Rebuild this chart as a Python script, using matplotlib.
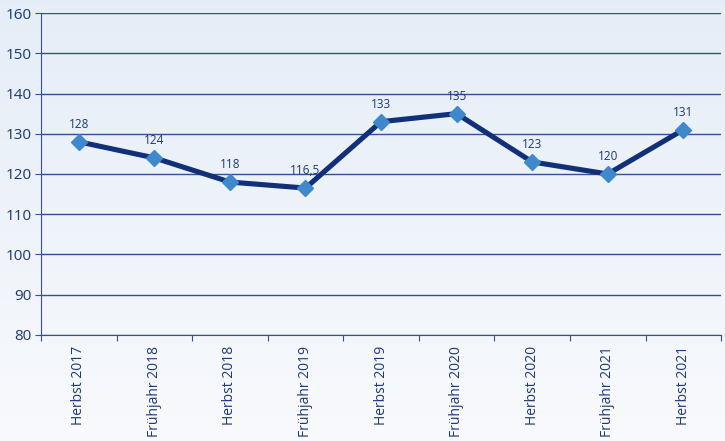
import numpy as np
import matplotlib.pyplot as plt

# Daten
kategorien = ['Herbst 2017', 'Frühjahr 2018', 'Herbst 2018', 'Frühjahr 2019', 'Herbst 2019',
              'Frühjahr 2020', 'Herbst 2020', 'Frühjahr 2021', 'Herbst 2021']
werte = [128, 124, 118, 116.5, 133, 135, 123, 120, 131]
beschriftung = ['128', '124', '118', '116,5', '133', '135', '123', '120', '131']
y_ticks = [80, 90, 100, 110, 120, 130, 140, 150, 160]

text_farbe = '#1d3677'
linien_farbe = '#12307a'
marker_farbe = '#3f88cc'
gitter_farbe = '#30508f'

plt.rcParams['font.family'] = ['Open Sans', 'DejaVu Sans']

fig = plt.figure(figsize=(7.25, 4.41), dpi=100)

# Hintergrund mit Verlauf
bg = fig.add_axes([0, 0, 1, 1], zorder=0)
verlauf = np.linspace(0, 1, 256).reshape(-1, 1)
oben = np.array([0.898, 0.929, 0.969])
unten = np.array([0.973, 0.980, 0.992])
img = oben + (unten - oben) * verlauf[:, :, None]
bg.imshow(img, aspect='auto', extent=[0, 1, 0, 1])
bg.axis('off')

ax = fig.add_axes([0.0566, 0.2404, 0.938, 0.7301], zorder=1)
ax.patch.set_alpha(0)

x = np.arange(len(kategorien))
ax.plot(x, werte, color=linien_farbe, linewidth=3.7, zorder=3)
ax.plot(x, werte, linestyle='none', marker='D', markersize=8, color=marker_farbe, zorder=4)

for xi, yi, t in zip(x, werte, beschriftung):
    ax.annotate(t, (xi, yi), xytext=(0, 8), textcoords='offset points', ha='center', va='bottom',
                fontsize=8.5, color=text_farbe)

ax.set_xlim(-0.5, len(kategorien) - 0.5)
ax.set_ylim(80, 160)
ax.set_yticks(y_ticks)
ax.set_yticklabels([str(v) for v in y_ticks], fontsize=11, color=text_farbe)
ax.yaxis.grid(True, color=gitter_farbe, linewidth=1)
ax.set_axisbelow(True)

# Ticks zwischen den Kategorien, Beschriftung in der Mitte
ax.set_xticks(np.arange(-0.5, len(kategorien), 1))
ax.set_xticklabels([])
ax.set_xticks(x, minor=True)
ax.set_xticklabels(kategorien, minor=True, rotation=90, fontsize=10, color=text_farbe)
ax.tick_params(axis='x', which='minor', length=0, pad=8)
ax.tick_params(axis='x', which='major', length=4, color=gitter_farbe, direction='out')
ax.tick_params(axis='y', length=4, color=gitter_farbe, pad=3)

for s in ['top', 'right']:
    ax.spines[s].set_visible(False)
ax.spines['left'].set_color(gitter_farbe)
ax.spines['bottom'].set_color(gitter_farbe)

plt.savefig('out.png', dpi=100)
